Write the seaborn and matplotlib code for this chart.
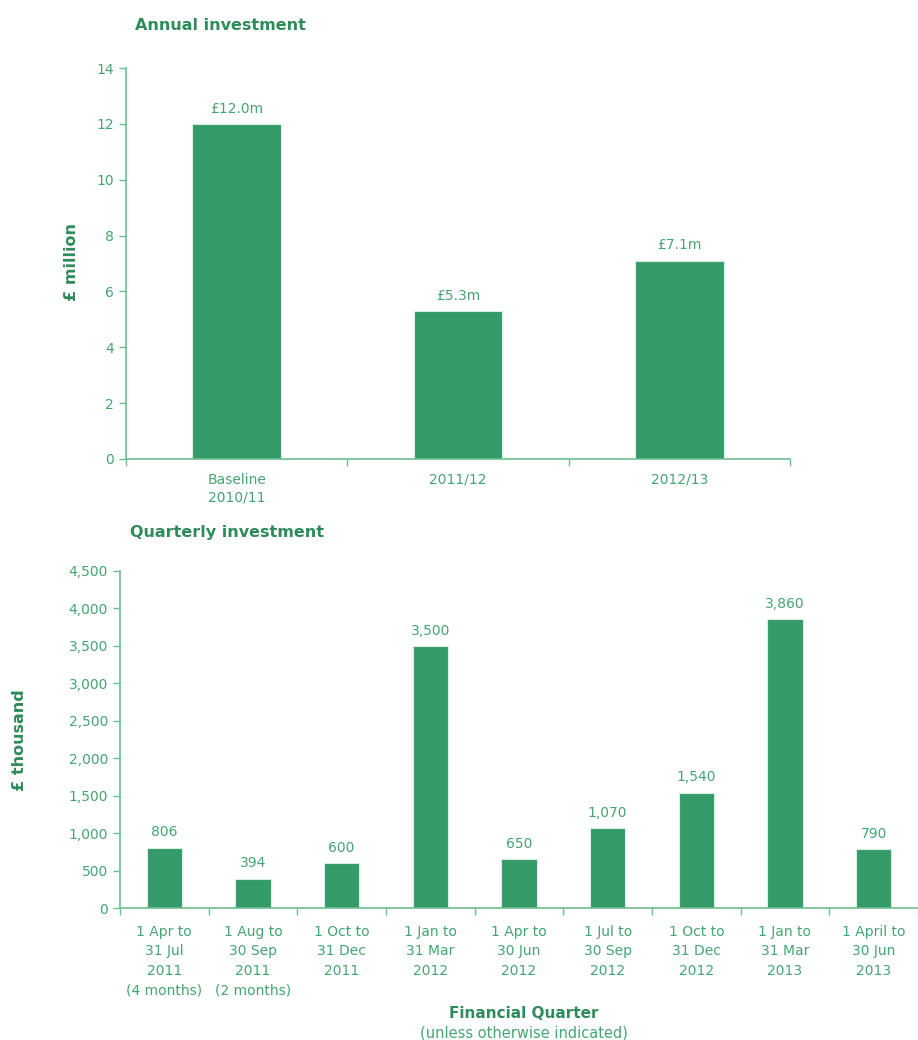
import matplotlib
matplotlib.use("Agg")
import matplotlib.pyplot as plt
import seaborn as sns
import numpy as np

annual_cats = ["Baseline\n2010/11", "2011/12", "2012/13"]
annual_vals = [12.0, 5.3, 7.1]
annual_labels = ["£12.0m", "£5.3m", "£7.1m"]

quarter_cats = [
    "1 Apr to\n31 Jul\n2011\n(4 months)",
    "1 Aug to\n30 Sep\n2011\n(2 months)",
    "1 Oct to\n31 Dec\n2011",
    "1 Jan to\n31 Mar\n2012",
    "1 Apr to\n30 Jun\n2012",
    "1 Jul to\n30 Sep\n2012",
    "1 Oct to\n31 Dec\n2012",
    "1 Jan to\n31 Mar\n2013",
    "1 April to\n30 Jun\n2013",
]
quarter_vals = [806, 394, 600, 3500, 650, 1070, 1540, 3860, 790]

sns.set_theme(style="white")
plt.rcParams['font.family'] = ['DejaVu Sans']

BAR = "#349a68"
TXT = "#45a473"
AX = "#6cbf90"
TITLE = "#2e8b5a"

fig = plt.figure(figsize=(9.18, 10.4), dpi=100)

def style(ax, n, pad):
    for s in ["top", "right"]:
        ax.spines[s].set_visible(False)
    for s in ["left", "bottom"]:
        ax.spines[s].set_color(AX)
        ax.spines[s].set_linewidth(1.2)
    ax.tick_params(axis="y", colors=AX, labelcolor=TXT, labelsize=10, length=5, width=1, direction="out", left=True)
    ax.tick_params(axis="x", which="major", length=0, labelcolor=TXT, labelsize=10, pad=pad)
    ax.set_xticks(np.arange(-0.5, n, 1.0), minor=True)
    ax.tick_params(axis="x", which="minor", colors=AX, length=5, width=1, bottom=True, direction="out")
    ax.set_xlim(-0.5, n - 0.5)
    ax.set_xlabel("")
    ax.set_ylabel("")

# Top chart
ax1 = fig.add_axes([0.1373, 0.5587, 0.7233, 0.3759])
sns.barplot(x=annual_cats, y=annual_vals, color=BAR, saturation=1, width=0.4,
            edgecolor="#d8eee0", linewidth=0.8, ax=ax1)
ax1.set_ylim(0, 14)
ax1.set_yticks(range(0, 15, 2))
style(ax1, len(annual_cats), 10)
ax1.bar_label(ax1.containers[0], labels=annual_labels, color=TXT, fontsize=10, padding=6)
ax1.set_xticks(range(len(annual_cats)))
ax1.set_xticklabels(annual_cats, linespacing=1.35)

# Bottom chart
ax2 = fig.add_axes([0.1307, 0.1269, 0.8693, 0.3241])
sns.barplot(x=quarter_cats, y=quarter_vals, color=BAR, saturation=1, width=0.4,
            edgecolor="#d8eee0", linewidth=0.8, ax=ax2)
ax2.set_ylim(0, 4500)
ax2.set_yticks(range(0, 4501, 500))
ax2.yaxis.set_major_formatter(matplotlib.ticker.FuncFormatter(lambda v, p: f"{int(v):,}"))
style(ax2, len(quarter_cats), 12)
ax2.bar_label(ax2.containers[0], labels=[f"{v:,}" for v in quarter_vals], color=TXT, fontsize=10, padding=6)
ax2.set_xticks(range(len(quarter_cats)))
ax2.set_xticklabels(quarter_cats, linespacing=1.5)
for lab in ax2.get_xticklabels():
    lab.set_verticalalignment("top")

# Titles and labels
fig.text(135 / 918, 1 - 25 / 1040, "Annual investment", color=TITLE, fontsize=11.5,
         fontweight="bold", va="center", ha="left")
fig.text(130 / 918, 1 - 533 / 1040, "Quarterly investment", color=TITLE, fontsize=11.5,
         fontweight="bold", va="center", ha="left")
fig.text(71 / 918, 1 - 262 / 1040, "£ million", color=TITLE, fontsize=11.5, fontweight="bold",
         rotation=90, va="center", ha="center")
fig.text(20 / 918, 1 - 740 / 1040, "£ thousand", color=TITLE, fontsize=11.5, fontweight="bold",
         rotation=90, va="center", ha="center")
fig.text(524 / 918, 1 - 1013 / 1040, "Financial Quarter", color=TITLE, fontsize=11,
         fontweight="bold", va="center", ha="center")
fig.text(524 / 918, 1 - 1033 / 1040, "(unless otherwise indicated)", color=TXT, fontsize=10.5,
         va="center", ha="center")

fig.savefig("out.png", dpi=100)
